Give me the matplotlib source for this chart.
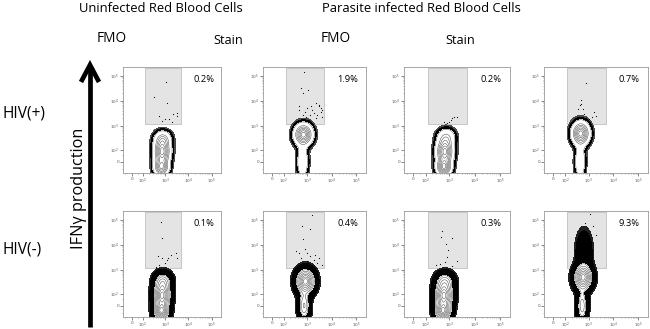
import numpy as np
import matplotlib
matplotlib.use("Agg")
import matplotlib.pyplot as plt
from matplotlib.ticker import FixedLocator, NullFormatter
from matplotlib.lines import Line2D

# ---------------- data ----------------
col_groups = ["Uninfected Red Blood Cells", "Parasite infected Red Blood Cells"]
col_labels = ["FMO", "Stain", "FMO", "Stain"]
row_labels = ["HIV(+)", "HIV(-)"]
y_axis_title = "IFNγ production"

# percentage of IFNγ+ events in gate, [row][col]
gate_pct = [["0.2%", "1.9%", "0.2%", "0.7%"],
            ["0.1%", "0.4%", "0.3%", "9.3%"]]

# gate (same for all panels), fluorescence units
gate_x = [130, 5000]
gate_y = [1200, 210000]

x_ticks = [0, 1e2, 1e3, 1e4, 1e5]
x_ticklabels = ["0", "$10^2$", "$10^3$", "$10^4$", "$10^5$"]
y_ticks = [0, 1e2, 1e3, 1e4, 1e5]
y_ticklabels = ["0", "$10^2$", "$10^3$", "$10^4$", "$10^5$"]

# population components (centre in fluorescence units, spread in decades, weight)
# panels ordered row-major: HIV+ (4 panels), HIV- (4 panels)
pop_cx = [[750, 700, 800], [700, 650], [650, 600, 750], [480, 450],
          [750, 700, 800], [850, 750], [600, 550, 650], [600, 650, 550]]
pop_cy = [[80, -40, 300], [450, 0], [80, -40, 350], [500, 0],
          [80, -40, 350], [350, 0], [80, -40, 350], [500, 5000, 0]]
pop_sx = [[0.21, 0.19, 0.22], [0.22, 0.14], [0.20, 0.18, 0.22], [0.21, 0.13],
          [0.21, 0.19, 0.22], [0.22, 0.14], [0.21, 0.19, 0.22], [0.21, 0.19, 0.13]]
pop_sy = [[0.30, 0.20, 0.20], [0.25, 0.40], [0.30, 0.20, 0.22], [0.27, 0.40],
          [0.30, 0.20, 0.22], [0.28, 0.35], [0.30, 0.20, 0.22], [0.28, 0.50, 0.40]]
pop_w = [[1.0, 0.8, 0.4], [1.0, 0.35], [1.0, 0.9, 0.35], [1.0, 0.35],
         [1.0, 0.9, 0.45], [1.0, 0.5], [1.0, 0.9, 0.4], [1.0, 0.18, 0.45]]

# individual events inside the gate (log10 x, log10 y)
gate_dots = [
    [(3.05, 4.75), (2.52, 4.14), (3.09, 3.91), (2.72, 3.40), (2.99, 3.29), (3.36, 3.46),
     (3.52, 3.53), (3.52, 3.40), (3.19, 3.29), (2.85, 3.20), (3.30, 3.15)],
    [(2.85, 5.15), (2.75, 4.52), (3.05, 4.43), (2.81, 4.32), (2.68, 3.80), (3.01, 3.71),
     (3.15, 3.78), (2.68, 3.64), (3.35, 3.91), (3.48, 3.78), (3.55, 3.71), (3.61, 3.64),
     (2.81, 3.44), (2.95, 3.37), (3.28, 3.50), (3.41, 3.44), (3.55, 3.57), (3.35, 3.30),
     (3.08, 3.23), (2.75, 3.23), (3.48, 3.84), (3.21, 3.64), (3.61, 3.37), (2.90, 3.55),
     (3.10, 3.45)],
    [(2.99, 3.16), (3.12, 3.30), (3.18, 3.37), (3.31, 3.34), (2.92, 3.10), (2.79, 3.16),
     (3.05, 3.22)],
    [(2.90, 4.70), (2.68, 4.02), (2.70, 3.89), (2.64, 3.82), (2.77, 3.68), (2.58, 3.68),
     (3.22, 3.54), (3.15, 3.34), (3.28, 3.41), (2.83, 3.48), (3.03, 3.27)],
    [(2.82, 4.90), (2.85, 4.29), (2.69, 3.54), (2.88, 3.47), (3.07, 3.41), (3.27, 3.61),
     (3.46, 3.68), (3.00, 3.27), (3.14, 3.47), (2.63, 3.13), (2.75, 3.20), (3.52, 3.47)],
    [(3.20, 5.18), (2.78, 4.74), (3.10, 4.63), (2.83, 4.22), (2.53, 3.75), (2.91, 3.82),
     (3.00, 3.68), (2.73, 3.47), (3.13, 3.54), (3.33, 3.61), (3.47, 3.47), (3.27, 3.41),
     (3.00, 3.34), (3.60, 3.20), (2.67, 3.68), (2.87, 3.27), (3.40, 3.27)],
    [(2.69, 4.55), (2.66, 4.32), (3.12, 4.28), (2.87, 4.05), (2.94, 3.78), (2.91, 3.50),
     (2.81, 3.33), (3.30, 3.37), (2.62, 3.23), (2.44, 3.19), (3.12, 3.16)],
    [(3.06, 5.25), (2.87, 4.86), (3.19, 4.75), (2.69, 4.53), (3.31, 4.39)],
]

# ---------------- layout ----------------
W, H = 650, 329
fig = plt.figure(figsize=(W / 100, H / 100), dpi=100)
renderer = fig.canvas.get_renderer()
col_px = [(123, 221), (263, 366), (404, 510), (544, 648)]
row_px = [(67, 173), (211, 317)]

A = 75.0  # asinh linear width
xlim = (-73, 2.5e5)
ylim = (-92, 2.24e5)
LN10 = np.log(10)
FONT = ["Open Sans", "DejaVu Sans"]


def t(v):
    return A * np.arcsinh(np.asarray(v, float) / A)


def fit(txt, target_px, vertical=False):
    bb = txt.get_window_extent(renderer)
    size = bb.height if vertical else bb.width
    txt.set_fontsize(txt.get_fontsize() * target_px / size)
    return txt


row_band = [("#4a4a4a", 0.03, 0.06, 0.13), ("#202020", 0.02, 0.04, 0.26)]

for r in range(2):
    for c in range(4):
        k = r * 4 + c
        x0, x1 = col_px[c]
        yt, yb = row_px[r]
        ax = fig.add_axes([x0 / W, 1 - yb / H, (x1 - x0) / W, (yb - yt) / H])
        ax.set_xscale("asinh", linear_width=A)
        ax.set_yscale("asinh", linear_width=A)
        ax.set_xlim(*xlim)
        ax.set_ylim(*ylim)

        # gate
        ax.fill_between(gate_x, gate_y[0], gate_y[1], color="#e4e4e4",
                        edgecolor="#b5b5b5", lw=0.5, zorder=1)

        # population density
        tx = np.linspace(t(xlim[0]), t(xlim[1]), 400)
        ty = np.linspace(t(ylim[0]), t(ylim[1]), 400)
        TX, TY = np.meshgrid(tx, ty)
        Z = np.zeros_like(TX)
        for cx, cy, sx, sy, w in zip(pop_cx[k], pop_cy[k], pop_sx[k], pop_sy[k], pop_w[k]):
            Z += w * np.exp(-0.5 * (((TX - t(cx)) / (sx * LN10 * A)) ** 2
                                    + ((TY - t(cy)) / (sy * LN10 * A)) ** 2))
        Z /= Z.max()
        X = A * np.sinh(TX / A)
        Y = A * np.sinh(TY / A)
        col_out, l0, l1, l2 = row_band[r]
        ax.contourf(X, Y, Z, levels=[l0, l1], colors=[col_out], zorder=2)
        ax.contourf(X, Y, Z, levels=[l1, l2], colors=["black"], zorder=2)
        ax.contourf(X, Y, Z, levels=[l2, 1.01], colors=["white"], zorder=2)
        ax.contour(X, Y, Z, levels=[l2, 0.36, 0.48, 0.6, 0.72, 0.83, 0.93],
                   colors=["#444444"], linewidths=0.35, zorder=3)

        # gate events
        d = np.array(gate_dots[k])
        ax.scatter(10 ** d[:, 0], 10 ** d[:, 1], s=0.7, c="black", lw=0, zorder=4)

        pt = ax.text(0.72, 0.885, gate_pct[r][c], transform=ax.transAxes, fontsize=6.5,
                     ha="left", va="center", family=FONT, zorder=5)
        fit(pt, 21)

        # axes cosmetics
        ax.xaxis.set_major_locator(FixedLocator(x_ticks))
        ax.yaxis.set_major_locator(FixedLocator(y_ticks))
        ax.set_xticklabels(x_ticklabels)
        ax.set_yticklabels(y_ticklabels)
        minors = [m * 10 ** e for e in (2, 3, 4) for m in range(2, 10)] + [-50, 50]
        ax.xaxis.set_minor_locator(FixedLocator(minors))
        ax.yaxis.set_minor_locator(FixedLocator(minors))
        ax.xaxis.set_minor_formatter(NullFormatter())
        ax.yaxis.set_minor_formatter(NullFormatter())
        ax.tick_params(which="major", length=2, width=0.5, labelsize=3.0, pad=0.8,
                       colors="#555555", direction="out")
        ax.tick_params(which="minor", length=1, width=0.4, colors="#777777")
        for sp in ax.spines.values():
            sp.set_color("#9a9a9a")
            sp.set_linewidth(0.6)

# headers
fit(fig.text(160.5 / W, 1 - 9 / H, col_groups[0], ha="center", va="center",
             fontsize=10, family=FONT), 163)
fit(fig.text(421 / W, 1 - 9 / H, col_groups[1], ha="center", va="center",
             fontsize=10, family=FONT), 198)
for xc, lab, yc, wpx in zip([112, 228, 336, 460], col_labels, [38, 40, 38, 40],
                            [30, 30, 30, 30]):
    fit(fig.text(xc / W, 1 - yc / H, lab, ha="center", va="center", fontsize=10,
                 family=FONT), wpx)
for yc, lab, wpx in zip([113, 249], row_labels, [43, 39]):
    fit(fig.text(3 / W, 1 - yc / H, lab, ha="left", va="center", fontsize=10,
                 family=FONT), wpx)
fit(fig.text(79 / W, 1 - 188 / H, y_axis_title, ha="center", va="center", rotation=90,
             fontsize=10, family=FONT), 121, vertical=True)

# big arrow
fig.add_artist(Line2D([90 / W, 90 / W], [1 - 327 / H, 1 - 66 / H], lw=3.4, color="black",
                      solid_capstyle="butt"))
fig.add_artist(Line2D([81 / W, 90 / W, 99 / W], [1 - 82 / H, 1 - 65 / H, 1 - 82 / H],
                      lw=3.4, color="black", solid_joinstyle="miter",
                      solid_capstyle="butt"))

fig.savefig("out.png", dpi=100)
